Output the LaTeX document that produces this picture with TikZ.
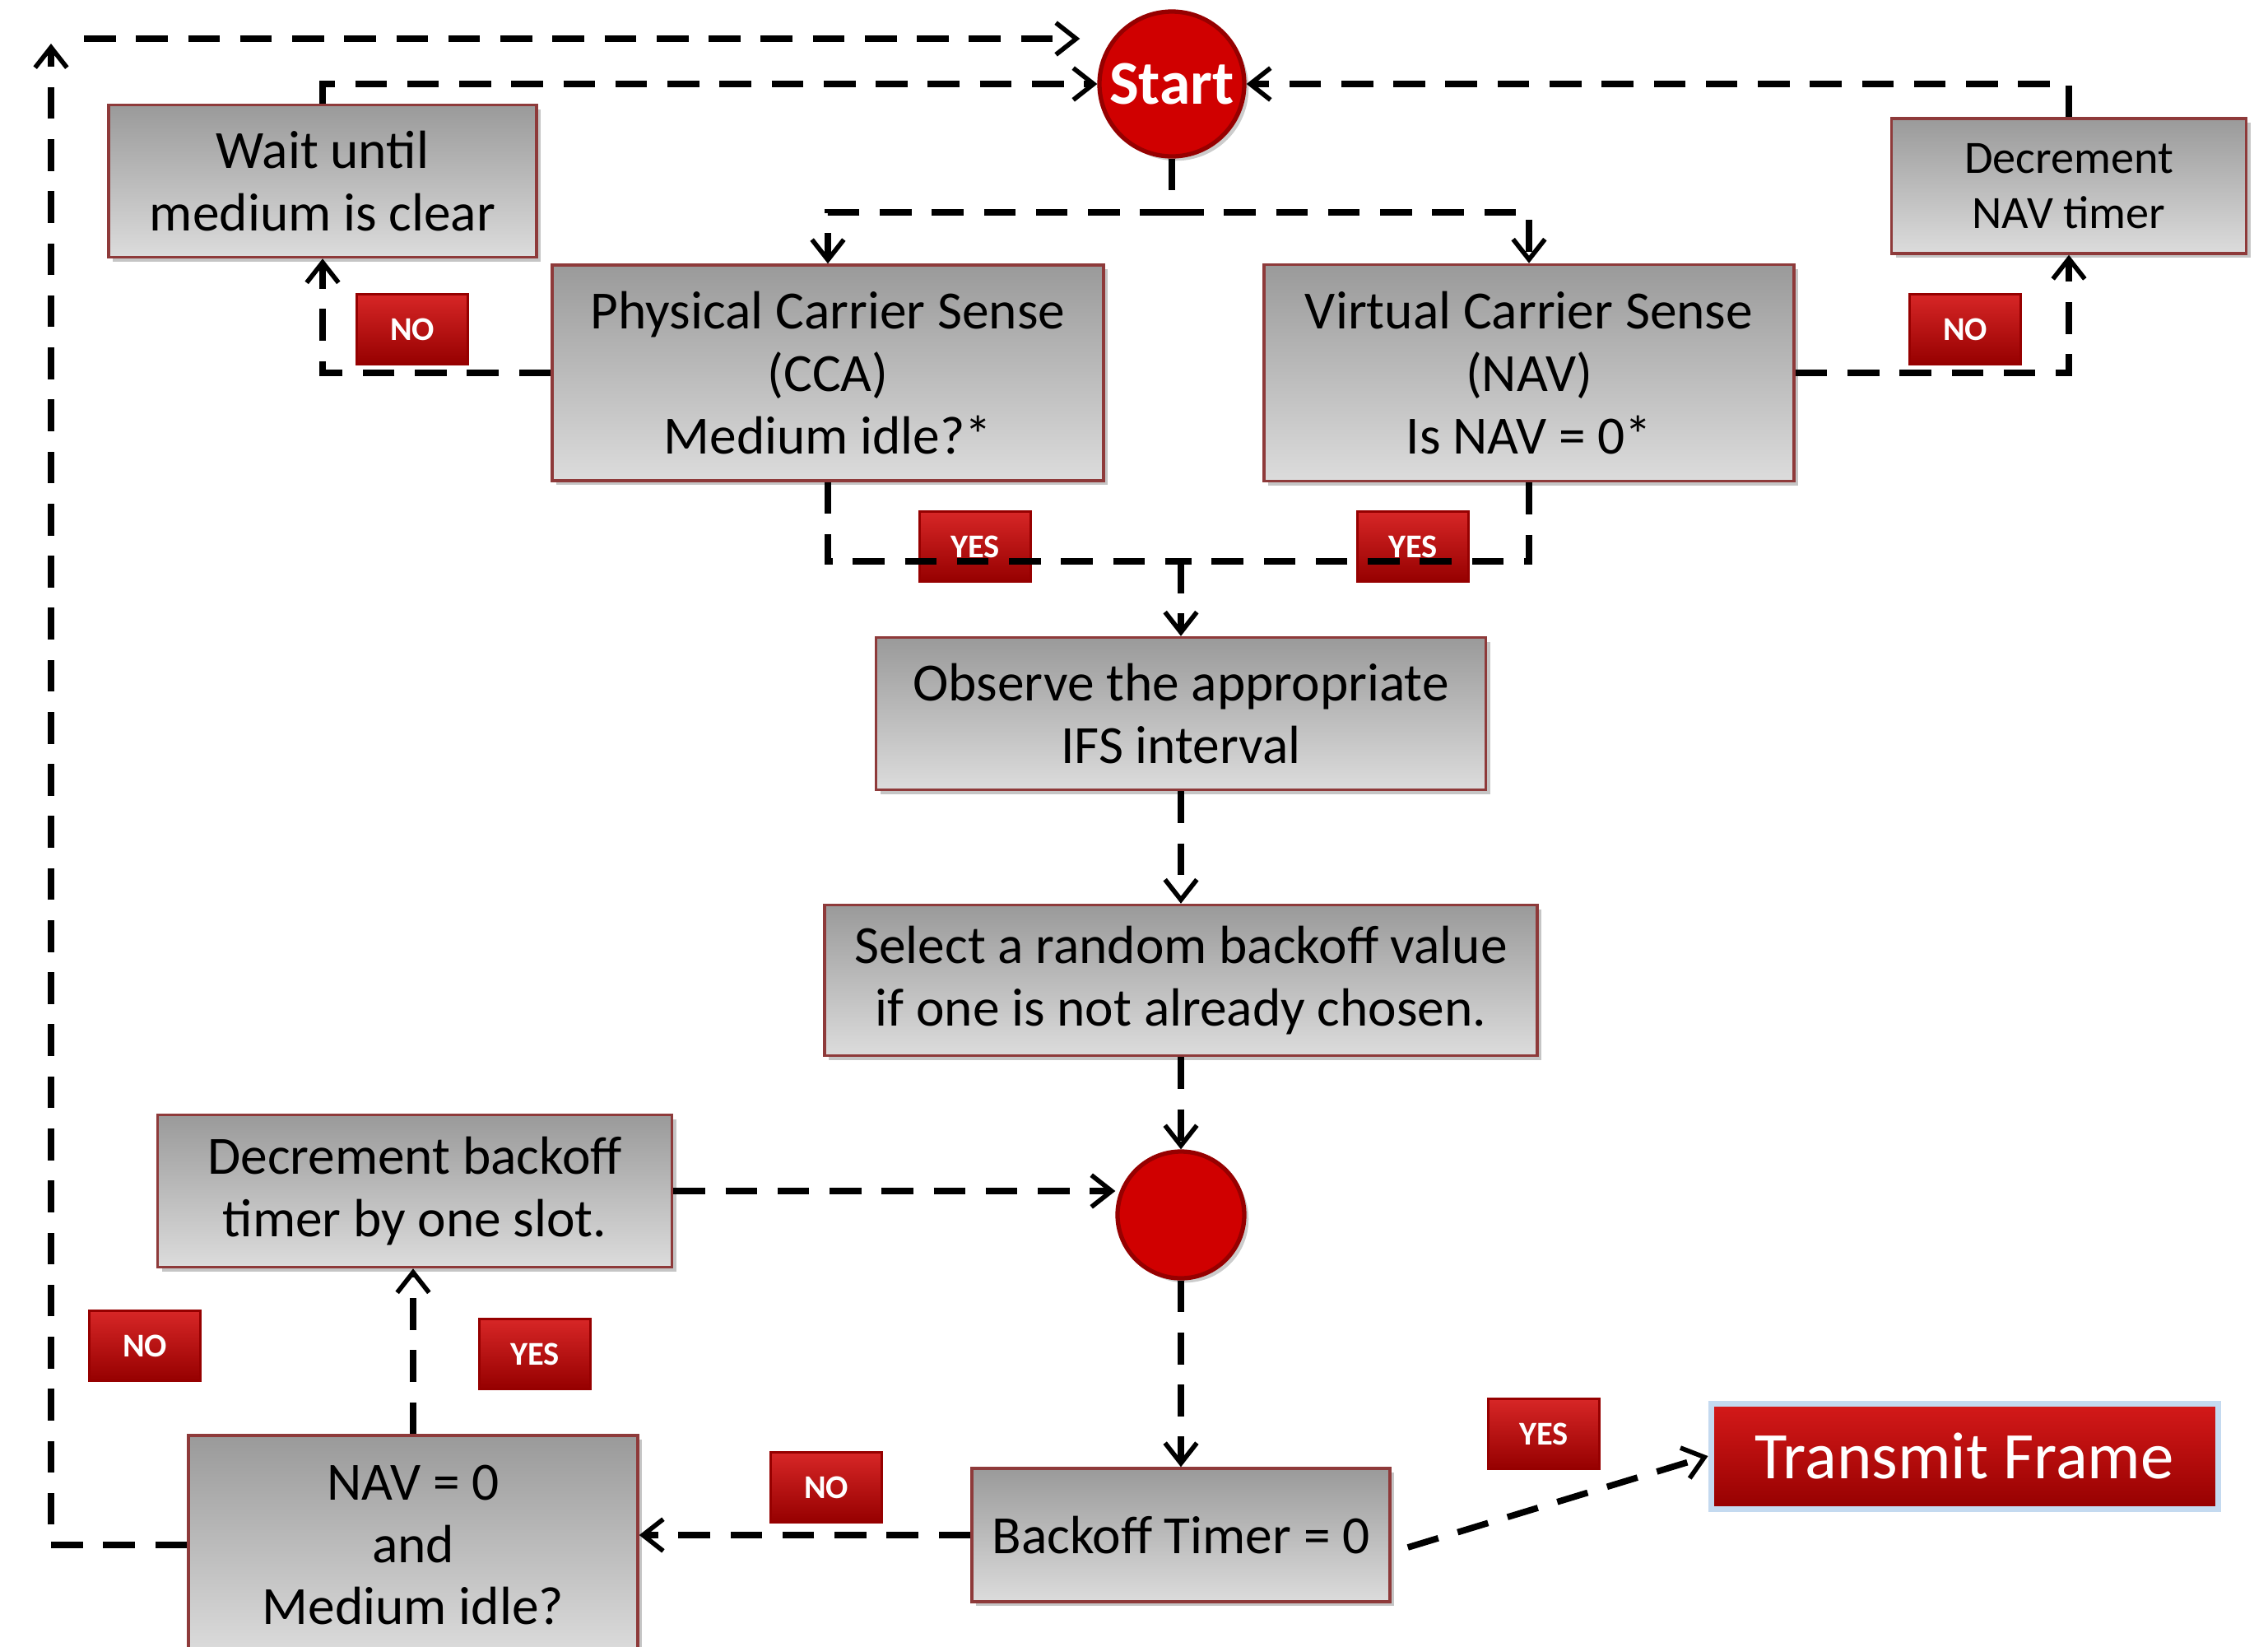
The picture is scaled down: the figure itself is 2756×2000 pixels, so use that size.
\documentclass[tikz,border=0pt]{standalone}
\usepackage{fontspec}
\setmainfont{Carlito}
\usetikzlibrary{arrows.meta,shadows}

\definecolor{boxdark}{HTML}{9A9A9A}
\definecolor{boxlight}{HTML}{DCDCDC}
\definecolor{boxedge}{HTML}{8E3A3A}
\definecolor{flagred}{HTML}{D00000}
\definecolor{flagdark}{HTML}{960000}
\definecolor{glow}{HTML}{C4DAF0}

\begin{document}
\begin{tikzpicture}[x=0.1mm,y=-0.1mm,
    stepbox/.style={rectangle,draw=boxedge,line width=1pt,top color=boxdark,bottom color=boxlight,
      drop shadow={shadow xshift=1.5pt,shadow yshift=-1.5pt,fill=black!45},
      align=center,inner sep=0pt,font=\fontsize{18.6}{21.5}\selectfont},
    flag/.style={rectangle,draw=flagdark,line width=0.8pt,top color=flagred!85!white,bottom color=flagdark,
      text=white,font=\fontsize{11.5}{13}\selectfont\bfseries,minimum width=1.35cm,minimum height=0.85cm,inner sep=0pt},
    startnode/.style={circle,draw=flagdark,line width=1.5pt,fill=flagred,text=white,minimum size=1.76cm,inner sep=0pt,
      drop shadow={shadow xshift=1.5pt,shadow yshift=-1.5pt,fill=black!40},font=\fontsize{21.5}{25}\selectfont\bfseries},
    dotnode/.style={circle,draw=flagdark,line width=1.5pt,fill=flagred,minimum size=1.54cm,inner sep=0pt,
      drop shadow={shadow xshift=1.5pt,shadow yshift=-1.5pt,fill=black!40}},
    txnode/.style={rectangle,draw=glow,line width=2pt,top color=flagred!90!white,bottom color=flagdark,text=white,
      minimum width=6.16cm,minimum height=1.28cm,inner sep=0pt,font=\fontsize{23}{27}\selectfont},
    plain/.style={line width=2.2pt,dash pattern=on 11pt off 7pt},
    flow/.style={plain,-{Straight Barb[length=7pt,width=11pt,line width=1.6pt]}}]
    \useasboundingbox (0,0) rectangle (2756,2000);
    \clip (0,0) rectangle (2756,2000);

    % Place the nodes
    \node[startnode] (start) at (1424,102) {Start};
    \node[stepbox,minimum width=5.2cm,minimum height=1.85cm] (wait) at (392,220) {Wait until\\medium is clear};
    \node[stepbox,minimum width=4.31cm,minimum height=1.64cm,font=\fontsize{16}{19}\selectfont] (navdec) at (2514,226) {Decrement\\NAV timer};
    \node[stepbox,minimum width=6.7cm,minimum height=2.62cm] (phys) at (1006,453) {Physical Carrier Sense\\(CCA)\\Medium idle?*};
    \node[stepbox,minimum width=6.44cm,minimum height=2.63cm] (virt) at (1858,453) {Virtual Carrier Sense\\(NAV)\\Is NAV = 0*};
    \node[stepbox,minimum width=7.41cm,minimum height=1.85cm] (ifs) at (1435,867) {Observe the appropriate\\IFS interval};
    \node[stepbox,minimum width=8.66cm,minimum height=1.83cm] (select) at (1435,1191) {Select a random backoff value\\if one is not already chosen.};
    \node[dotnode] (dot) at (1435,1476) {};
    \node[stepbox,minimum width=6.25cm,minimum height=1.85cm] (decbo) at (504,1447) {Decrement backoff\\timer by one slot.};
    \node[stepbox,minimum width=5.46cm,minimum height=2.66cm] (navidle) at (502,1877) {NAV = 0\\and\\Medium idle?};
    \node[stepbox,minimum width=5.08cm,minimum height=1.62cm] (bto) at (1435,1865) {Backoff Timer = 0};
    \node[txnode] (tx) at (2387,1769) {Transmit Frame};

    % The YES / NO flags
    \node[flag] (nowait) at (501,400) {NO};
    \node[flag] (nonav) at (2388,400) {NO};
    \node[flag] (yesphys) at (1185,664) {YES};
    \node[flag] (yesvirt) at (1717,664) {YES};
    \node[flag] (noloop) at (176,1635) {NO};
    \node[flag] (yesdec) at (650,1645) {YES};
    \node[flag] (nobto) at (1004,1807) {NO};
    \node[flag] (yestx) at (1876,1742) {YES};

    % Helper points
    \coordinate (split) at (1424,258);
    \coordinate (merge) at (1435,682);
    \coordinate (looptop) at (62,53);
    \coordinate (loopstart) at (102,47);

    % Draw the lines
    \draw[plain] (start) -- (split);
    \draw[flow] (split) -| (phys.north);
    \draw[flow] (split) -| (virt.north);
    \draw[flow] (phys.west) -| (wait.south);
    \draw[flow] (virt.east) -| (navdec.south);
    \draw[flow] (wait.north) |- (start.west);
    \draw[flow] (navdec.north) |- (start.east);
    \draw[plain] (phys.south) |- (merge);
    \draw[plain] (virt.south) |- (merge);
    \draw[flow] (merge) -- (ifs.north);
    \draw[flow] (ifs) -- (select);
    \draw[flow] (select) -- (dot);
    \draw[flow] (decbo.east) -- (decbo.east -| dot.west);
    \draw[flow] (dot) -- (bto);
    \draw[flow] (bto.west) -- (bto.west -| navidle.east);
    \draw[flow] ([shift={(20,15)}]bto.east) -- (tx.west);
    \draw[flow] (navidle.north) -- (navidle.north |- decbo.south);
    \draw[flow] (navidle.west) -| (looptop);
    \draw[flow,shorten >=6pt] (loopstart) -- (loopstart -| start.west);

\end{tikzpicture}
\end{document}
